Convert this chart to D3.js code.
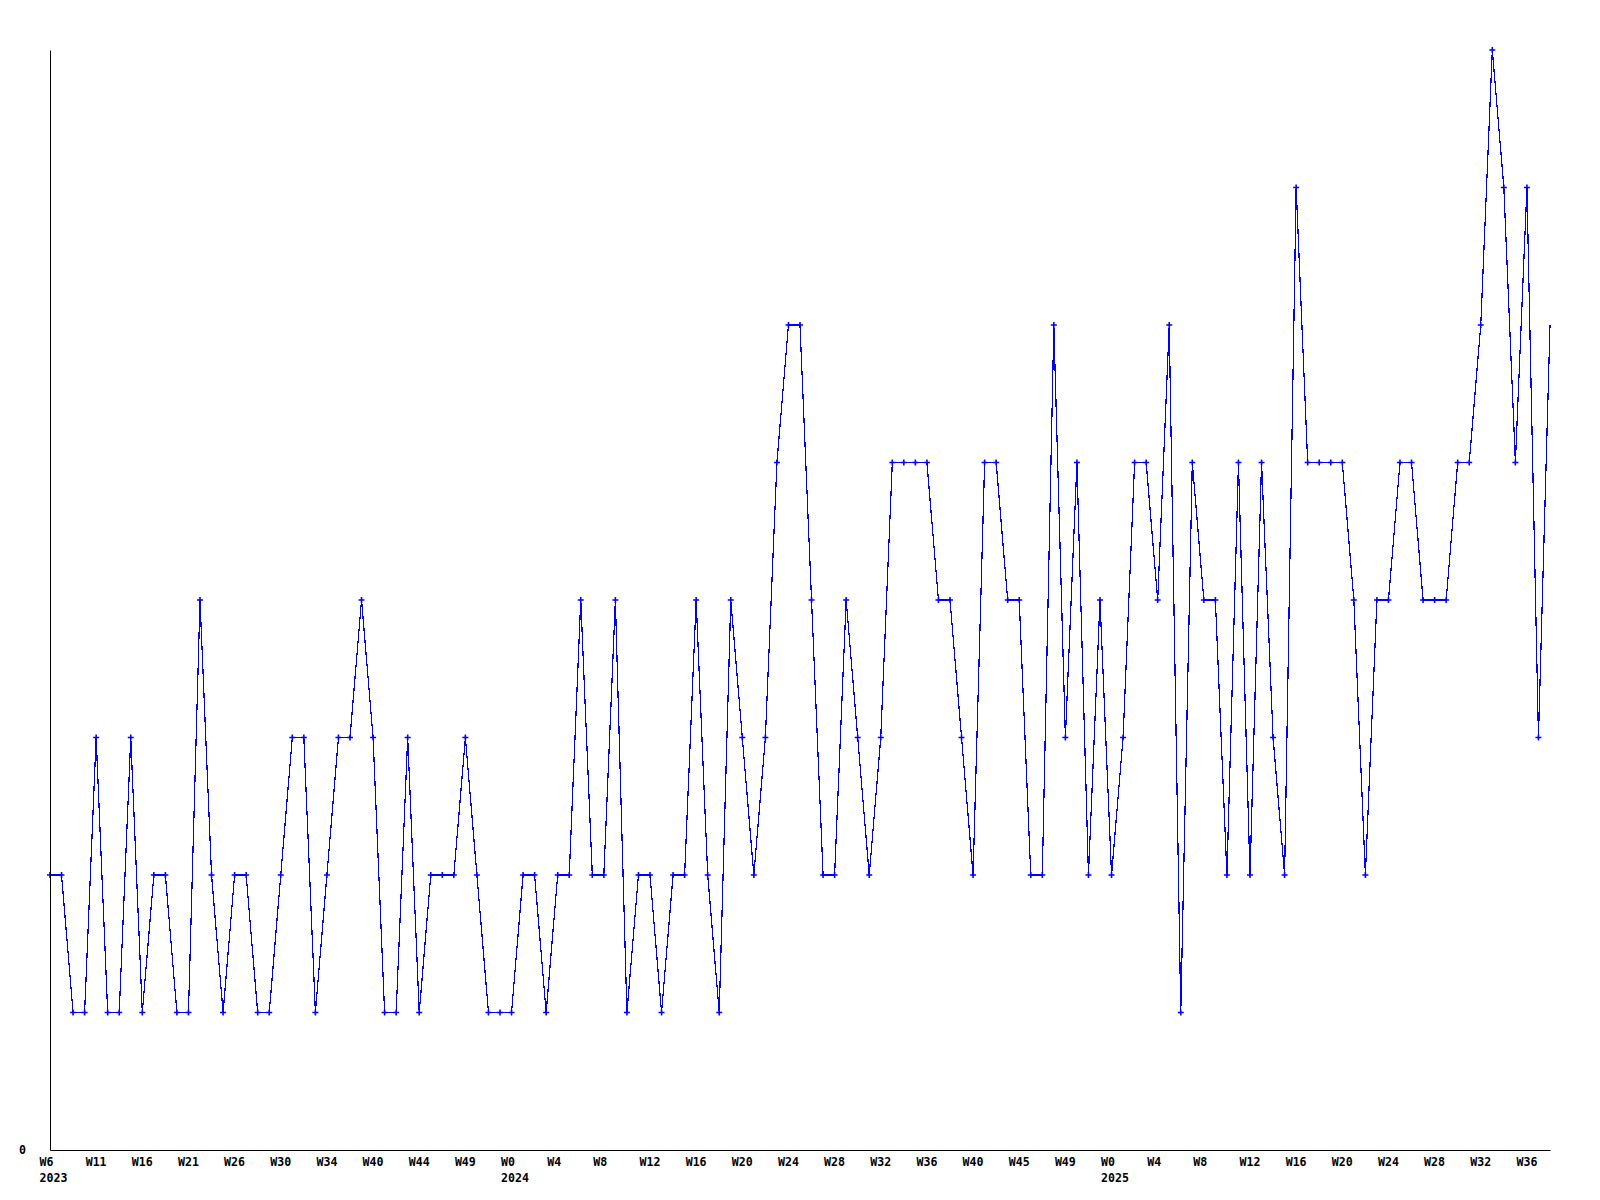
<!DOCTYPE html>
<html>
<head>
<meta charset="utf-8">
<script src="https://cdn.jsdelivr.net/npm/d3@7"></script>
<style>
  html, body { margin: 0; padding: 0; background: #ffffff; }
  svg { display: block; }
  .axis text { font-family: "DejaVu Sans Mono", monospace; font-weight: bold; font-size: 11.6px; fill: #000; }
  .axis path { stroke: #000; stroke-width: 1; }
</style>
</head>
<body>
<svg id="chart" width="1600" height="1200"></svg>
<script>
// Weekly counts, first point = 2023 W6
const values = [
  2,2,1,1,3,1,1,3,1,2,2,1,1,4,2,1,2,2,1,1,2,3,
  3,1,2,3,3,4,3,1,1,3,1,2,2,2,3,2,1,1,1,2,2,1,
  2,2,4,2,2,4,1,2,2,1,2,2,4,2,1,4,3,2,3,5,6,6,
  4,2,2,4,3,2,3,5,5,5,5,4,4,3,2,5,5,4,4,2,2,
  6,3,5,2,4,2,3,5,5,4,6,1,5,4,4,2,5,2,5,3,2,7,
  5,5,5,5,4,2,4,4,5,5,4,4,4,5,5,6,8,7,5,7,3,6
];
// Tick labels, one every 4 points
const weekLabels = [
  "W6","W11","W16","W21","W26","W30","W34","W40","W44","W49",
  "W0","W4","W8","W12","W16","W20","W24","W28","W32","W36","W40","W45","W49",
  "W0","W4","W8","W12","W16","W20","W24","W28","W32","W36"
];
const yearLabels = { 0: "2023", 10: "2024", 23: "2025" };
const tickStep = 4;
const yMax = 8;

const svg = d3.select("#chart");
const x = d3.scaleLinear().domain([0, values.length - 1]).range([50, 1550]);
const y = d3.scaleLinear().domain([0, yMax]).range([1150, 50]);

// line
svg.append("path")
  .datum(values)
  .attr("fill", "none")
  .attr("stroke", "#0000ff")
  .attr("stroke-width", 1.2)
  .attr("shape-rendering", "crispEdges")
  .attr("d", d3.line().x((d, i) => x(i)).y(d => y(d)));

// markers (clipped to plot area)
svg.append("clipPath").attr("id", "plotclip")
  .append("rect").attr("x", 46).attr("y", 40).attr("width", 1500).attr("height", 1120);

const marks = svg.append("g").attr("clip-path", "url(#plotclip)");
marks.selectAll("path.mk")
  .data(values)
  .join("path")
  .attr("class", "mk")
  .attr("transform", (d, i) => `translate(${x(i)},${y(d)})`)
  .attr("d", "M-3,0L3,0M0,-3L0,3")
  .attr("stroke", "#0000ff")
  .attr("stroke-width", 1.6)
  .attr("fill", "none");

// x axis
const tickVals = d3.range(0, values.length, tickStep).slice(0, weekLabels.length);
const xAxis = svg.append("g")
  .attr("class", "axis")
  .attr("transform", "translate(0,1150)")
  .call(d3.axisBottom(x).tickValues(tickVals).tickSize(0).tickSizeOuter(0)
    .tickFormat(i => weekLabels[i / tickStep]));
xAxis.selectAll(".tick text")
  .attr("text-anchor", "start")
  .attr("x", -11)
  .attr("y", 16)
  .attr("dy", null)
  .each(function(i) {
    const k = i / tickStep;
    if (yearLabels[k]) {
      d3.select(this).append("tspan").attr("x", -11).attr("y", 32).text(yearLabels[k]);
    }
  });

// y axis
const yAxis = svg.append("g")
  .attr("class", "axis")
  .attr("transform", "translate(50,0)")
  .call(d3.axisLeft(y).tickValues([0]).tickSize(0).tickSizeOuter(0).tickPadding(24).tickFormat(d3.format("d")));
</script>
</body>
</html>
